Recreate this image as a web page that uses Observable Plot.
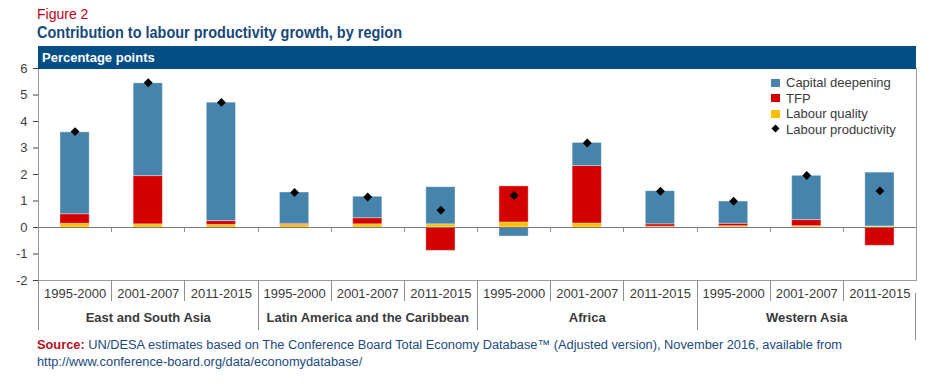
<!DOCTYPE html>
<html>
<head>
<meta charset="utf-8">
<script src="https://cdn.jsdelivr.net/npm/d3@7"></script>
<script src="https://cdn.jsdelivr.net/npm/@observablehq/plot@0.6"></script>
<style>
  body { margin: 0; background: #fff; font-family: "Liberation Sans", Arial, sans-serif; }
  #wrap { position: relative; width: 947px; height: 388px; overflow: hidden; background: #fff; }
  .abs { position: absolute; white-space: nowrap; }
  .fit { transform-origin: 0 0; }
  #legend .row { position: absolute; left: 0; font-size: 13px; color: #3a3a3a; }
  #legend .sw { position: absolute; left: 0; width: 9px; height: 8px; }
  #legend .lab { position: absolute; left: 15px; top: 0; }
</style>
</head>
<body>
<div id="wrap">
  <div id="chart" class="abs" style="left:0;top:46px;"></div>
  <div class="abs" style="left:37px;top:6px;font-size:14px;color:#c00018;">Figure 2</div>
  <div class="abs fit" data-w="365" style="left:37px;top:24.3px;font-size:16px;font-weight:bold;color:#17497a;">Contribution to labour productivity growth, by region</div>
  <div class="abs" style="left:38px;top:46px;width:878px;height:23px;background:#034e85;">
    <span style="position:absolute;left:4px;top:4.3px;font-size:13px;font-weight:bold;color:#fff;">Percentage points</span>
  </div>
  <div id="legend" class="abs" style="left:771px;top:0;width:150px;height:150px;"></div>
  <div id="src1" class="abs fit" style="left:37px;top:338px;font-size:12.5px;color:#1b4a7e;"><b style="color:#b3121c;">Source:</b> UN/DESA estimates based on The Conference Board Total Economy Database™ (Adjusted version), November 2016, available from</div>
  <div id="src2" class="abs fit" style="left:37px;top:355px;font-size:12.5px;color:#1b4a7e;">http://www.conference-board.org/data/economydatabase/</div>
</div>
<script>
// ---- data ----
const regions = ["East and South Asia", "Latin America and the Caribbean", "Africa", "Western Asia"];
const periods = ["1995-2000", "2001-2007", "2011-2015"];
const capitalDeepening = [3.09, 3.50, 4.47, 1.18, 0.81, 1.40, -0.34, 0.87, 1.25, 0.84, 1.67, 2.03];
const tfp              = [0.36, 1.82, 0.14, 0.04, 0.23, -0.88, 1.36, 2.17, 0.09, 0.09, 0.23, -0.69];
const labourQuality    = [0.14, 0.12, 0.10, 0.10, 0.12, 0.12, 0.19, 0.15, 0.03, 0.05, 0.05, 0.04];
const labourProductivity = [3.62, 5.46, 4.72, 1.32, 1.15, 0.65, 1.21, 3.19, 1.37, 0.99, 1.96, 1.38];
const yTicks = [-2, -1, 0, 1, 2, 3, 4, 5, 6];
const componentNames = ["Capital deepening", "TFP", "Labour quality"];
const componentColors = ["#4784ab", "#d40000", "#fbbf00"];
const markerName = "Labour productivity";

// ---- derived tables ----
const keys = regions.flatMap(r => periods.map(p => r + "|" + p));
const stacked = [];
keys.forEach((k, i) => {
  stacked.push({key: k, component: "Labour quality", value: labourQuality[i]});
  stacked.push({key: k, component: "TFP", value: tfp[i]});
  stacked.push({key: k, component: "Capital deepening", value: capitalDeepening[i]});
});
const points = keys.map((k, i) => ({key: k, value: labourProductivity[i]}));
const periodLabels = keys.map(k => ({key: k, label: k.split("|")[1]}));
const regionLabels = regions.map(r => ({key: r + "|" + periods[1], label: r}));

function separators(index, scales) {
  const x = scales.x, y = scales.y;
  const bw = x.bandwidth();
  const y0 = y(0), yb = y(yTicks[0]);
  const g = d3.create("svg:g").attr("stroke", "#8f8f8f").attr("stroke-width", 1).attr("fill", "none");
  keys.forEach((k, i) => {
    const px = Math.round(x(k)) + 0.5;
    if (i > 0) g.append("line").attr("x1", px).attr("x2", px).attr("y1", y0).attr("y2", y0 + 5);
    g.append("line").attr("x1", px).attr("x2", px).attr("y1", yb).attr("y2", yb + (i % 3 === 0 ? 50 : 21));
  });
  const xr = Math.round(x(keys[keys.length - 1]) + bw) - 0.5;
  g.append("line").attr("x1", xr).attr("x2", xr).attr("y1", yb + 13).attr("y2", yb + 60);
  return g.node();
}

const chart = Plot.plot({
  width: 947,
  height: 296,
  marginLeft: 38,
  marginRight: 31,
  marginTop: 22,
  marginBottom: 62,
  style: {fontFamily: "Liberation Sans, Arial, sans-serif", fontSize: "13px", color: "#404040", background: "transparent", overflow: "visible"},
  x: {domain: keys, padding: 0, round: false, axis: null},
  y: {domain: [yTicks[0], yTicks[yTicks.length - 1]], ticks: yTicks, tickSize: 5, tickPadding: 6, tickFormat: d => String(d), label: null},
  color: {domain: componentNames, range: componentColors},
  marks: [
    Plot.barY(stacked, Plot.stackY({x: "key", y: "value", fill: "component", insetLeft: 22, insetRight: 22, stroke: "#ffffff", strokeOpacity: 0.35, strokeWidth: 1})),
    Plot.ruleY([0], {stroke: "#7a7a7a"}),
    Plot.frame({stroke: "#9a9a9a"}),
    separators,
    Plot.text(periodLabels, {x: "key", y: () => yTicks[0], text: "label", dy: 13.8, fontSize: 13, fill: "#3a3a3a"}),
    Plot.text(regionLabels, {x: "key", y: () => yTicks[0], text: "label", dy: 37.5, fontSize: 13, fontWeight: "bold", fill: "#3a3a3a"}),
    Plot.dot(points, {x: "key", y: "value", symbol: "diamond2", r: 4, fill: "#000", stroke: "none"})
  ]
});
document.getElementById("chart").appendChild(chart);

// ---- legend ----
const legend = d3.select("#legend");
const legendItems = componentNames.map((n, i) => ({name: n, color: componentColors[i], type: "square"}))
  .concat([{name: markerName, color: "#000", type: "diamond"}]);
legendItems.forEach((d, i) => {
  const top = 75.3 + i * 15.4;
  const row = legend.append("div").attr("class", "row").style("top", top + "px");
  if (d.type === "square") {
    row.append("div").attr("class", "sw").style("background", d.color).style("top", "3.5px");
  } else {
    row.append("svg").attr("width", 10).attr("height", 10).style("position", "absolute").style("left", "0px").style("top", "2.5px")
      .append("path").attr("d", "M4.5,0.5 L8.5,4.5 L4.5,8.5 L0.5,4.5Z").attr("fill", d.color);
  }
  row.append("span").attr("class", "lab").text(d.name);
});

// ---- condensed-font fitting ----
document.querySelectorAll(".fit[data-w]").forEach(el => {
  const w = el.getBoundingClientRect().width;
  el.style.transform = `scaleX(${(+el.dataset.w) / w})`;
});
const s1 = document.getElementById("src1"), s2 = document.getElementById("src2");
const k = 805 / s1.getBoundingClientRect().width;
s1.style.transform = `scaleX(${k})`;
s2.style.transform = `scaleX(${k})`;
</script>
</body>
</html>
